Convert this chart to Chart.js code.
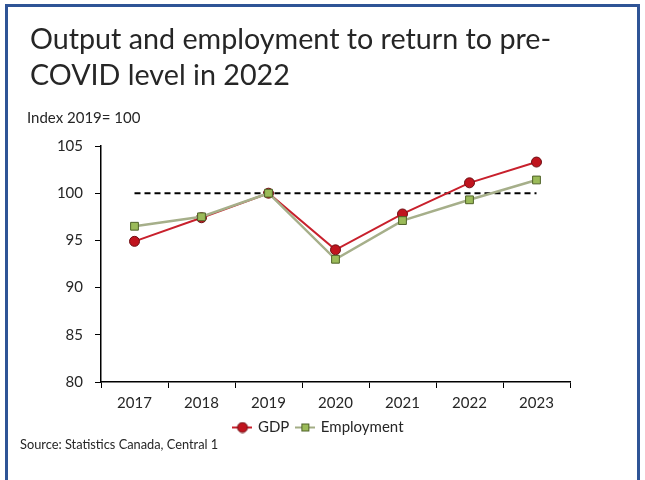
<!DOCTYPE html>
<html>
<head>
<meta charset="utf-8">
<script src="https://cdn.jsdelivr.net/npm/chart.js@4.4.1/dist/chart.umd.min.js"></script>
<style>
  html, body { margin: 0; padding: 0; background: #fff; }
  body { width: 645px; height: 480px; position: relative; overflow: hidden; font-family: Lato, "Open Sans", sans-serif; color: #262626; }
  #frame { position: absolute; left: 5px; top: 4px; width: 635px; height: 520px; box-sizing: border-box; border: 3px solid #2f5496; }
  #title { position: absolute; left: 30px; top: 20px; font-size: 28.7px; line-height: 36px; white-space: nowrap; }
  #unit { position: absolute; left: 27px; top: 110px; font-size: 15px; line-height: 15px; white-space: nowrap; }
  #source { position: absolute; left: 20px; top: 438px; font-size: 12.8px; line-height: 13px; white-space: nowrap; }
  canvas { position: absolute; left: 0; top: 0; }
</style>
</head>
<body>
<canvas id="chart" width="645" height="480"></canvas>
<div id="frame"></div>
<div id="title">Output and employment to return to pre-<br>COVID level in 2022</div>
<div id="unit">Index 2019= 100</div>
<div id="source">Source: Statistics Canada, Central 1</div>

<script>
// Dữ liệu
const years = ['2017', '2018', '2019', '2020', '2021', '2022', '2023'];
const gdp = [94.9, 97.4, 100, 94.0, 97.8, 101.1, 103.3];
const employment = [96.5, 97.5, 100, 93.0, 97.1, 99.3, 101.4];
const baseline = [100, 100, 100, 100, 100, 100, 100];
const yTicks = [80, 85, 90, 95, 100, 105];

const FONT = 'Lato, "Open Sans", sans-serif';
const TEXT = '#262626';

// Biểu tượng chú giải kiểu Excel: đoạn thẳng + điểm đánh dấu
function legendIcon(lineColor, lineWidth, draw) {
    const c = document.createElement('canvas');
    c.width = 20; c.height = 12;
    const g = c.getContext('2d');
    g.strokeStyle = lineColor;
    g.lineWidth = lineWidth;
    g.beginPath(); g.moveTo(0, 6); g.lineTo(20, 6); g.stroke();
    draw(g);
    return c;
}
const gdpIcon = legendIcon('#c8202c', 2, g => {
    g.fillStyle = '#c0141e'; g.strokeStyle = '#6d0f14'; g.lineWidth = 1;
    g.beginPath(); g.arc(10, 6, 5, 0, Math.PI * 2); g.fill(); g.stroke();
});
const empIcon = legendIcon('#a3ad85', 2, g => {
    g.fillStyle = '#9bbb59'; g.strokeStyle = '#4f6228'; g.lineWidth = 1;
    g.fillRect(6.5, 2.5, 7, 7); g.strokeRect(6.5, 2.5, 7, 7);
});

// Dời chú giải sang phải cho giống bản gốc
const shiftLegend = {
    id: 'shiftLegend',
    afterLayout(chart) {
        chart.legend.left += 34;
        chart.legend.right += 34;
    }
};

new Chart(document.getElementById('chart'), {
    type: 'line',
    data: {
        labels: years,
        datasets: [
            {
                label: 'GDP',
                data: gdp,
                borderColor: '#c8202c',
                borderWidth: 2,
                pointStyle: 'circle',
                pointRadius: 5,
                pointBackgroundColor: '#c0141e',
                pointBorderColor: '#6d0f14',
                pointBorderWidth: 1,
                order: 1,
                legendIcon: gdpIcon
            },
            {
                label: 'Employment',
                data: employment,
                borderColor: '#a6af8a',
                borderWidth: 2.5,
                pointStyle: 'rect',
                pointRadius: 5.5,
                pointBackgroundColor: '#9bbb59',
                pointBorderColor: '#4f6228',
                pointBorderWidth: 1,
                order: 0,
                legendIcon: empIcon
            },
            {
                label: 'base',
                data: baseline,
                borderColor: '#000',
                borderWidth: 2,
                borderDash: [6, 4],
                pointRadius: 0,
                order: 2
            }
        ]
    },
    options: {
        responsive: false,
        animation: false,
        layout: { padding: { left: 0, top: 146, right: 75, bottom: 35 } },
        plugins: {
            tooltip: { enabled: false },
            legend: {
                position: 'bottom',
                labels: {
                    usePointStyle: true,
                    pointStyleWidth: 16,
                    padding: 8,
                    color: TEXT,
                    font: { family: FONT, size: 15 },
                    filter: item => item.text !== 'base',
                    sort: (a, b) => a.datasetIndex - b.datasetIndex,
                    generateLabels: chart => {
                        const items = Chart.defaults.plugins.legend.labels.generateLabels(chart);
                        items.forEach(it => {
                            const ds = chart.data.datasets[it.datasetIndex];
                            if (ds.legendIcon) it.pointStyle = ds.legendIcon;
                        });
                        return items;
                    }
                }
            }
        },
        scales: {
            x: {
                offset: true,
                grid: { offset: true, drawOnChartArea: false, drawTicks: true, tickLength: 6, color: '#000' },
                border: { display: true, color: '#000', width: 1.5 },
                ticks: { color: TEXT, font: { family: FONT, size: 15 }, padding: 6, maxRotation: 0 },
                afterFit: s => { s.height = 30; }
            },
            y: {
                min: 80,
                max: 105,
                afterBuildTicks: s => { s.ticks = yTicks.map(v => ({ value: v })); },
                grid: { drawOnChartArea: false, drawTicks: true, tickLength: 6, color: '#000' },
                border: { display: true, color: '#000', width: 1.5 },
                ticks: { color: TEXT, font: { family: FONT, size: 15 }, padding: 12 },
                afterFit: s => { s.width = 101; }
            }
        }
    },
    plugins: [shiftLegend]
});
</script>
</body>
</html>
